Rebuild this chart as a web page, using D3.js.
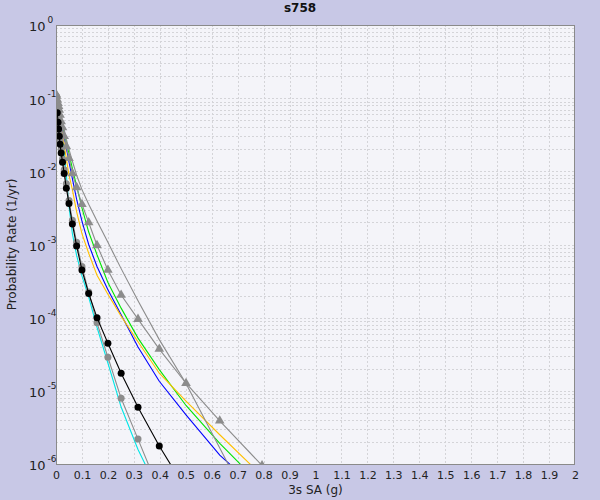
<!DOCTYPE html>
<html>
<head>
<meta charset="utf-8">
<script src="https://cdn.jsdelivr.net/npm/d3@7"></script>
<style>
  html, body { margin: 0; padding: 0; background: #c8c8e6; }
  svg { display: block; font-family: "DejaVu Sans", sans-serif; }
</style>
</head>
<body>
<svg id="chart" width="600" height="500"></svg>
<script>
// ---- data ----
const title = "s758";
const xLabel = "3s SA (g)";
const yLabel = "Probability Rate (1/yr)";
const xTicks = [0,0.1,0.2,0.3,0.4,0.5,0.6,0.7,0.8,0.9,1,1.1,1.2,1.3,1.4,1.5,1.6,1.7,1.8,1.9,2];
const yTickExps = [0,-1,-2,-3,-4,-5,-6];

const imls = [0.001, 0.002, 0.005, 0.0079, 0.01, 0.0126, 0.0158, 0.02, 0.0251, 0.0316, 0.0398, 0.0501,
              0.0631, 0.0794, 0.1, 0.126, 0.158, 0.2, 0.251, 0.316, 0.398, 0.501, 0.631, 0.794];

const cyanCurve   = [0.107, 0.1, 0.0832, 0.0676, 0.0575, 0.0525, 0.0447, 0.0355, 0.0263, 0.0174, 0.00891, 0.00331,
                     0.00141, 0.000708, 0.000372, 0.000191, 7.4e-5, 2.4e-5, 6.0e-6, 1.58e-6, 4.0e-7];
const blueCurve   = [0.11, 0.102, 0.0891, 0.0794, 0.0708, 0.0631, 0.0537, 0.0447, 0.0363, 0.0288, 0.0209, 0.0135,
                     0.00794, 0.00417, 0.00209, 0.001, 0.000501, 0.00024, 0.00011, 3.98e-5, 1.35e-5, 4.68e-6, 1.32e-6, 4.0e-7];
const greenCurve  = [0.11, 0.105, 0.0933, 0.0832, 0.0759, 0.0676, 0.0589, 0.0501, 0.0417, 0.0331, 0.0251, 0.0174,
                     0.011, 0.00631, 0.00316, 0.00148, 0.000724, 0.000302, 0.000135, 5.25e-5, 1.95e-5, 6.31e-6, 1.91e-6, 5.0e-7];
const orangeCurve = [0.11, 0.102, 0.0871, 0.0759, 0.0661, 0.0575, 0.049, 0.0398, 0.0316, 0.0234, 0.0148, 0.00891,
                     0.00562, 0.00282, 0.00141, 0.000759, 0.00038, 0.000209, 0.000105, 4.68e-5, 1.74e-5, 7.24e-6, 2.51e-6, 6.92e-7];
const grayPlain   = [0.112, 0.11, 0.1, 0.0912, 0.0851, 0.0776, 0.0692, 0.0589, 0.0479, 0.0372, 0.0275, 0.02,
                     0.0138, 0.00891, 0.00562, 0.00355, 0.00209, 0.00107, 0.000468, 0.00017, 5.01e-5, 1.26e-5, 1.66e-6, 1.26e-7];
const grayTriangles = [0.112, 0.107, 0.0955, 0.0851, 0.0776, 0.0692, 0.0589, 0.0479, 0.0398, 0.0302, 0.0219, 0.0151,
                     0.00933, 0.00603, 0.00355, 0.002, 0.000977, 0.000447, 0.000204, 9.55e-5, 3.72e-5, 1.27e-5, 3.89e-6, 9.55e-7];
const grayCircles = [0.107, 0.0955, 0.0708, 0.0525, 0.0427, 0.0339, 0.0263, 0.02, 0.0148, 0.0105, 0.00676, 0.00398,
                     0.00214, 0.00107, 0.000501, 0.000224, 8.5e-5, 2.88e-5, 7.9e-6, 2.19e-6, 4.3e-7];
const blackCircles = [null, null, 0.0631, 0.0468, 0.038, 0.0302, 0.0234, 0.0178, 0.0133, 0.00933, 0.00589, 0.00363,
                     0.00191, 0.000955, 0.000447, 0.000214, 0.0001, 4.47e-5, 1.74e-5, 5.96e-6, 1.76e-6, 4.47e-7];

const seriesList = [
  {values: cyanCurve,   color: "#00e6e6", marker: null},
  {values: blueCurve,   color: "#0000ff", marker: null},
  {values: greenCurve,  color: "#00e600", marker: null},
  {values: orangeCurve, color: "#ffc000", marker: null},
  {values: grayPlain,   color: "#8c8c8c", marker: null},
  {values: grayTriangles, color: "#8c8c8c", marker: "triangle"},
  {values: grayCircles, color: "#8c8c8c", marker: "circle"},
  {values: blackCircles, color: "#000000", marker: "circle"}
];

// ---- layout ----
const svg = d3.select("#chart");
const W = 600, H = 500;
const plot = {left: 56, top: 25, right: 575, bottom: 464};

svg.append("rect").attr("width", W).attr("height", H).attr("fill", "#c8c8e6");

const x = d3.scaleLinear().domain([0, 2]).range([plot.left, plot.right]);
const y = d3.scaleLog().domain([1e-6, 1]).range([plot.bottom, plot.top]);

svg.append("rect")
  .attr("x", plot.left).attr("y", plot.top)
  .attr("width", plot.right - plot.left).attr("height", plot.bottom - plot.top)
  .attr("fill", "#f4f4f9");

// grid
const grid = svg.append("g").attr("stroke", "#d4d4d8").attr("stroke-width", 1)
  .attr("stroke-dasharray", "2,2").attr("shape-rendering", "crispEdges");
xTicks.slice(1, -1).forEach(v => {
  grid.append("line").attr("x1", Math.round(x(v)) + 0.5).attr("x2", Math.round(x(v)) + 0.5)
    .attr("y1", plot.top).attr("y2", plot.bottom);
});
const yGridVals = [];
for (let e = -6; e < 0; e++) {
  for (let m = 1; m <= 9; m++) yGridVals.push(m * Math.pow(10, e));
}
yGridVals.forEach(v => {
  const yy = Math.round(y(v)) + 0.5;
  if (yy > plot.bottom - 1) return;
  grid.append("line").attr("x1", plot.left).attr("x2", plot.right).attr("y1", yy).attr("y2", yy);
});

// clip
svg.append("clipPath").attr("id", "clip").append("rect")
  .attr("x", plot.left).attr("y", plot.top)
  .attr("width", plot.right - plot.left).attr("height", plot.bottom - plot.top);

const gSeries = svg.append("g").attr("clip-path", "url(#clip)");
const line = d3.line().defined(d => d[1] != null).x(d => x(d[0])).y(d => y(d[1]));

seriesList.forEach(s => {
  const pts = s.values.map((v, i) => [imls[i], v]);
  const valid = pts.filter(d => d[1] != null);
  gSeries.append("path").datum(pts)
    .attr("d", line).attr("fill", "none")
    .attr("stroke", s.color).attr("stroke-width", 1.1);
  if (s.marker === "circle") {
    gSeries.selectAll(null).data(valid).enter().append("circle")
      .attr("cx", d => x(d[0])).attr("cy", d => y(d[1])).attr("r", 3.5)
      .attr("fill", s.color);
  } else if (s.marker === "triangle") {
    const tri = d3.symbol().type(d3.symbolTriangle).size(40);
    gSeries.selectAll(null).data(valid).enter().append("path")
      .attr("d", tri)
      .attr("transform", d => `translate(${x(d[0])},${y(d[1])})`)
      .attr("fill", s.color);
  }
});

// border
svg.append("rect")
  .attr("x", plot.left + 0.5).attr("y", plot.top + 0.5)
  .attr("width", plot.right - plot.left - 1).attr("height", plot.bottom - plot.top)
  .attr("fill", "none").attr("stroke", "#8a8a8a").attr("stroke-width", 1);

// x axis
const xAxis = d3.axisBottom(x).tickValues(xTicks).tickSize(0).tickPadding(7)
  .tickFormat(d => d3.format("~g")(d));
const gx = svg.append("g").attr("transform", `translate(0,${plot.bottom})`).call(xAxis);
gx.select(".domain").remove();
gx.selectAll("text").attr("font-size", 11).attr("fill", "#222").attr("font-family", "DejaVu Sans, sans-serif");

// y axis
const yAxis = d3.axisLeft(y).tickValues(yTickExps.map(e => Math.pow(10, e))).tickSize(0).tickPadding(12)
  .tickFormat(() => "");
const gy = svg.append("g").attr("transform", `translate(${plot.left},0)`).call(yAxis);
gy.select(".domain").remove();
gy.selectAll(".tick text").each(function(d) {
  const t = d3.select(this);
  const e = Math.round(Math.log10(d));
  t.attr("font-size", 13).attr("fill", "#222").attr("font-family", "DejaVu Sans, sans-serif")
    .attr("x", -27).attr("text-anchor", "start").attr("dy", "0.45em");
  t.append("tspan").text("10");
  t.append("tspan").attr("font-size", 9).attr("dx", 2).attr("dy", -8).text(e === 0 ? "0" : "-" + Math.abs(e));
});

// titles
svg.append("text").attr("x", 300).attr("y", 12).attr("text-anchor", "middle")
  .attr("font-size", 12).attr("font-weight", "bold").attr("fill", "#111").text(title);
svg.append("text").attr("x", (plot.left + plot.right) / 2).attr("y", 494).attr("text-anchor", "middle")
  .attr("font-size", 12).attr("fill", "#222").text(xLabel);
svg.append("text").attr("transform", `translate(16,${(plot.top + plot.bottom) / 2}) rotate(-90)`)
  .attr("text-anchor", "middle").attr("font-size", 12).attr("fill", "#222").text(yLabel);
</script>
</body>
</html>
